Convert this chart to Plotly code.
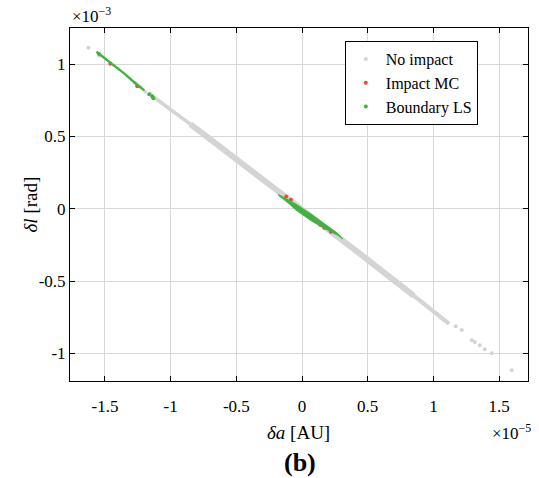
import plotly.graph_objects as go

# Units: delta a in 1e-5 AU, delta l in 1e-3 rad
# dense "No impact" band (centre line)
band_da = [-1.13, -0.85, -0.40, 0.00, 0.40, 0.85, 1.12]
band_dl = [0.772, 0.585, 0.276, 0.000, -0.282, -0.600, -0.795]

# sparse "No impact" samples at the tails
noimp_da = [-1.626, -1.543, -1.269, -1.254, -1.231, -1.193, -1.155,
            1.170, 1.216, 1.292, 1.315, 1.353, 1.391, 1.444, 1.596]
noimp_dl = [1.113, 1.057, 0.871, 0.857, 0.843, 0.808, 0.794,
            -0.812, -0.838, -0.908, -0.920, -0.943, -0.970, -0.998, -1.115]

# "Impact MC" samples
mc_da = [-1.459, -1.254, -0.120, -0.085, 0.050, 0.100, 0.140, 0.170, 0.220]
mc_dl = [1.002, 0.846, 0.085, 0.062, -0.052, -0.082, -0.112, -0.132, -0.158]

# "Boundary LS": central lens outline, upper-left arc, isolated samples
lens_da = [-0.180, -0.100, -0.050, 0.065, 0.200, 0.270, 0.310, 0.270, 0.200, 0.065, -0.050, -0.100, -0.180]
lens_dl = [0.099, 0.062, 0.034, -0.035, -0.120, -0.170, -0.208, -0.182, -0.150, -0.080, -0.006, 0.036, 0.093]
arc_da = [-1.565, -1.459, -1.350, -1.254, -1.200]
arc_dl = [1.085, 1.008, 0.932, 0.855, 0.818]
ls_da = [-1.545, -1.163, -1.140, -1.132]
ls_dl = [1.070, 0.792, 0.778, 0.763]

xtick_vals = [-1.5, -1, -0.5, 0, 0.5, 1, 1.5]
xtick_text = ["-1.5", "-1", "-0.5", "0", "0.5", "1", "1.5"]
ytick_vals = [-1, -0.5, 0, 0.5, 1]
ytick_text = ["-1", "-0.5", "0", "0.5", "1"]

GRAY = "#d4d4d4"
RED = "#ee4a2e"
GREEN = "#42b142"
FONT = "Liberation Serif"

fig = go.Figure()
# dense band drawn in segments of different thickness
for (i0, i1, w) in [(0, 2, 3.6), (1, 6, 6.0), (5, 7, 4.2)]:
    fig.add_trace(go.Scatter(x=band_da[i0:i1], y=band_dl[i0:i1], mode="lines",
                             line=dict(color=GRAY, width=w), showlegend=False,
                             hoverinfo="skip"))
fig.add_trace(go.Scatter(x=noimp_da, y=noimp_dl, mode="markers", name="No impact",
                         marker=dict(color=GRAY, size=4)))
fig.add_trace(go.Scatter(x=mc_da, y=mc_dl, mode="markers", name="Impact MC",
                         marker=dict(color=RED, size=4)))
fig.add_trace(go.Scatter(x=lens_da, y=lens_dl, mode="lines", fill="toself",
                         fillcolor=GREEN, line=dict(color=GREEN, width=1),
                         showlegend=False, hoverinfo="skip"))
fig.add_trace(go.Scatter(x=arc_da, y=arc_dl, mode="lines",
                         line=dict(color=GREEN, width=2.4), showlegend=False,
                         hoverinfo="skip"))
fig.add_trace(go.Scatter(x=ls_da, y=ls_dl, mode="markers", name="Boundary LS",
                         marker=dict(color=GREEN, size=4)))

axis_common = dict(showgrid=True, gridcolor="#d9d9d9", gridwidth=1, zeroline=False,
                   showline=True, linecolor="black", linewidth=1, mirror="ticks",
                   ticks="inside", ticklen=5, tickcolor="black",
                   tickfont=dict(family=FONT, size=17, color="black"))

fig.update_layout(
    width=539, height=478,
    margin=dict(l=70, r=11, t=28, b=97),
    paper_bgcolor="white", plot_bgcolor="white",
    font=dict(family=FONT, color="black"),
    xaxis=dict(range=[-1.766, 1.72], tickvals=xtick_vals, ticktext=xtick_text,
               ticklabelstandoff=10, **axis_common),
    yaxis=dict(range=[-1.19, 1.249], tickvals=ytick_vals, ticktext=ytick_text, **axis_common),
    legend=dict(x=0.600, y=0.963, xanchor="left", yanchor="top",
                bordercolor="black", borderwidth=1, bgcolor="white",
                font=dict(family=FONT, size=16, color="black"),
                tracegroupgap=0, entrywidth=96, entrywidthmode="pixels"),
    showlegend=True,
    annotations=[
        dict(text="×10<sup>−3</sup>", xref="paper", yref="paper", x=0, y=1,
             xanchor="left", yanchor="bottom", yshift=0, showarrow=False,
             font=dict(family=FONT, size=17)),
        dict(text="×10<sup>−5</sup>", xref="paper", yref="paper", x=1, y=0,
             xanchor="right", yanchor="top", yshift=-38, xshift=5, showarrow=False,
             font=dict(family=FONT, size=17)),
        dict(text="<i>δa</i> [AU]", xref="paper", yref="paper", x=0.498, y=0,
             xanchor="center", yanchor="middle", yshift=-51, showarrow=False,
             font=dict(family=FONT, size=19)),
        dict(text="<i>δl</i> [rad]", xref="paper", yref="paper", x=0, y=0.5,
             xanchor="center", yanchor="middle", xshift=-40, textangle=-90,
             showarrow=False, font=dict(family=FONT, size=19)),
        dict(text="<b>(b)</b>", xref="paper", yref="paper", x=0.502, y=0,
             xanchor="center", yanchor="middle", yshift=-81, showarrow=False,
             font=dict(family=FONT, size=26)),
    ],
)

fig.write_html("out.html")
